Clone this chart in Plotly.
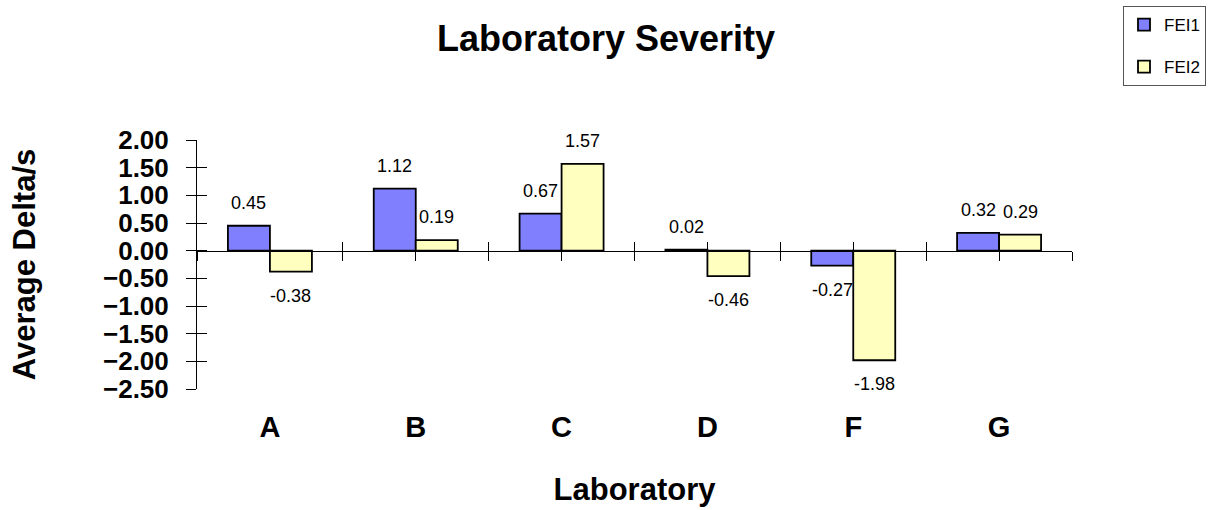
import plotly.graph_objects as go

labs = ["A", "B", "C", "D", "F", "G"]
fei1 = [0.45, 1.12, 0.67, 0.02, -0.27, 0.32]
fei2 = [-0.38, 0.19, 1.57, -0.46, -1.98, 0.29]

W, H = 1229, 510
FONT = "Arial, Liberation Sans, sans-serif"
Y_RANGE = [-2.5, 2.0]
X_RANGE = [-0.5, len(labs) - 0.5]
BARGAP = 0.424
BAR_W = (1 - BARGAP) / 2          # width of one bar in category units

series = [("FEI1", fei1, "#8080FF", -BAR_W / 2), ("FEI2", fei2, "#FFFFC0", BAR_W / 2)]

fig = go.Figure()
annotations = []
for name, vals, color, offset in series:
    fig.add_trace(go.Bar(
        x=labs, y=vals, name=name, legendgroup=name,
        marker=dict(color=color, line=dict(color="black", width=1.8)),
        hoverinfo="x+y+name",
    ))
    # value labels, set a little away from the bar ends
    for i, v in enumerate(vals):
        annotations.append(dict(
            x=i + offset, y=v, xref="x", yref="y", text=f"{v:.2f}", showarrow=False,
            yanchor="bottom" if v >= 0 else "top", yshift=11 if v >= 0 else -12,
            font=dict(family=FONT, size=18, color="black"),
        ))

# helper traces so the overlay axes (zero axis and inward ticks) get drawn
fig.add_trace(go.Scatter(x=[None], y=[None], xaxis="x2", yaxis="y", showlegend=False, hoverinfo="skip"))
fig.add_trace(go.Scatter(x=[None], y=[None], xaxis="x3", yaxis="y", showlegend=False, hoverinfo="skip"))
fig.add_trace(go.Scatter(x=[None], y=[None], xaxis="x", yaxis="y2", showlegend=False, hoverinfo="skip"))

zero_pos = (0 - Y_RANGE[0]) / (Y_RANGE[1] - Y_RANGE[0])

fig.update_layout(
    width=W, height=H,
    margin=dict(l=197, r=157, t=140, b=121),
    paper_bgcolor="white", plot_bgcolor="white",
    font=dict(family=FONT, color="black"),
    barmode="group", bargap=BARGAP, bargroupgap=0,
    annotations=annotations,
    title=dict(text="<b>Laboratory Severity</b>", xref="container", yref="container",
               x=606 / W, y=1 - 38 / H, xanchor="center", yanchor="middle",
               font=dict(size=36)),
    legend=dict(xref="container", yref="container", x=1123 / W, y=1 - 6 / H,
                xanchor="left", yanchor="top", bordercolor="#555", borderwidth=1,
                font=dict(size=17), tracegroupgap=17, itemwidth=30),
    xaxis=dict(type="category", categoryorder="array", categoryarray=labs,
               range=X_RANGE, showline=False, ticks="", showgrid=False, zeroline=False,
               tickfont=dict(size=29, family=FONT), ticklabelstandoff=18,
               tickprefix="<b>", ticksuffix="</b>", automargin=False,
               title=dict(text="<b>Laboratory</b>", font=dict(size=31), standoff=36)),
    yaxis=dict(range=Y_RANGE, dtick=0.5, tick0=0, tickformat=".2f",
               showline=True, linecolor="black", linewidth=1,
               ticks="outside", ticklen=10, tickcolor="black", showgrid=False, zeroline=False,
               tickfont=dict(size=26, family=FONT), ticklabelstandoff=12,
               tickprefix="<b>", ticksuffix="</b>", automargin=False,
               title=dict(text="<b>Average Delta/s</b>", font=dict(size=31), standoff=58)),
    yaxis2=dict(overlaying="y", range=Y_RANGE, dtick=0.5, tick0=0, side="left",
                showline=False, ticks="inside", ticklen=10, tickcolor="black",
                showticklabels=False, showgrid=False, zeroline=False, automargin=False),
    xaxis2=dict(overlaying="x", anchor="free", position=zero_pos, range=X_RANGE,
                tick0=-0.5, dtick=0.5, showline=True, linecolor="black", linewidth=1,
                ticks="outside", ticklen=9, tickcolor="black",
                showticklabels=False, showgrid=False, zeroline=False, automargin=False),
    xaxis3=dict(overlaying="x", anchor="free", position=zero_pos, range=X_RANGE,
                tick0=-0.5, dtick=0.5, showline=False,
                ticks="inside", ticklen=9, tickcolor="black",
                showticklabels=False, showgrid=False, zeroline=False, automargin=False),
)

fig.write_html("out.html")
